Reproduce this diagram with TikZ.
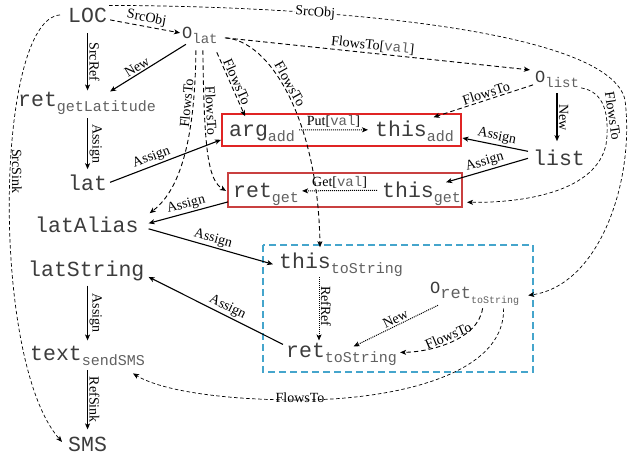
\documentclass[tikz,border=0pt]{standalone}
\usepackage{fontspec}
\setmainfont{Liberation Serif}
\setmonofont{Liberation Mono}
\usetikzlibrary{arrows.meta,calc}
\definecolor{maintext}{HTML}{3C3C3C}
\definecolor{subtext}{HTML}{606060}
\definecolor{boxred}{HTML}{E02424}
\definecolor{boxredb}{HTML}{C94040}
\definecolor{boxblue}{HTML}{45A5CC}
\newcommand\mtxt[1]{{\fontsize{21.5}{21.5}\selectfont\ttfamily #1}}
\newcommand\vtxt[2]{{\fontsize{21.5}{21.5}\selectfont\ttfamily #1}\raisebox{-5pt}{\fontsize{15}{15}\selectfont\ttfamily\color{subtext}#2}}
\newcommand\otxt[1]{{\fontsize{17}{17}\selectfont\ttfamily O}\raisebox{-5pt}{\fontsize{14}{14}\selectfont\ttfamily\color{subtext}#1}}
\newcommand\orettxt{{\fontsize{17}{17}\selectfont\ttfamily O}\raisebox{-5pt}{\fontsize{17}{17}\selectfont\ttfamily\color{subtext}ret\raisebox{-5pt}{\fontsize{10}{10}\selectfont toString}}}
\newcommand\vl{{\ttfamily\color{subtext}val}}
\begin{document}
\begin{tikzpicture}[x=1pt,y=-1pt,
  vn/.style={anchor=base west,inner sep=0pt,text=maintext},
  lab/.style={font=\fontsize{14}{14}\selectfont,inner sep=1.5pt,text=black},
  arr/.style={-{Stealth[length=6pt,width=5pt,inset=1.5pt]}},
  sol/.style={arr,line width=1.1pt},
  dsh/.style={arr,line width=0.9pt,dash pattern=on 4.5pt off 3pt},
  tdsh/.style={arr,line width=0.7pt,dash pattern=on 3.5pt off 2.5pt},
  dotl/.style={arr,line width=1pt,dash pattern=on 1pt off 1pt},
]
\useasboundingbox (0,0) rectangle (629,459);

% boxes
\draw[boxred, line width=1.2pt] (222,114) rectangle (461,146);
\draw[boxredb, line width=1.2pt] (228,173) rectangle (462,207);
\draw[boxblue, line width=1.5pt, dash pattern=on 7pt off 4pt] (263,245) rectangle (533,372);

% nodes
\node[vn] (loc) at (68,22) {\mtxt{LOC}};
\node[vn] (olat) at (182,38) {\otxt{lat}};
\node[vn] (retgl) at (18,106) {\vtxt{ret}{getLatitude}};
\node[vn] (lat) at (68,190) {\mtxt{lat}};
\node[vn] (latalias) at (35,232) {\mtxt{latAlias}};
\node[vn] (latstring) at (28,276) {\mtxt{latString}};
\node[vn] (textsms) at (30,360) {\vtxt{text}{sendSMS}};
\node[vn] (sms) at (68,451) {\mtxt{SMS}};
\node[vn] (argadd) at (229,136) {\vtxt{arg}{add}};
\node[vn] (thisadd) at (375,136) {\vtxt{this}{add}};
\node[vn] (retget) at (233,197) {\vtxt{ret}{get}};
\node[vn] (thisget) at (382,197) {\vtxt{this}{get}};
\node[vn] (olist) at (535,82) {\otxt{list}};
\node[vn] (list) at (533,165) {\mtxt{list}};
\node[vn] (thists) at (279,268) {\vtxt{this}{toString}};
\node[vn] (retts) at (286,357) {\vtxt{ret}{toString}};
\node[vn] (orets) at (430,293) {\orettxt};

% edges
\draw[dsh] ([shift={(3,5)}]loc.east) -- node[lab,above,sloped]{SrcObj} ([shift={(-2,-2)}]olat.west);
\draw[tdsh] ([shift={(-8,0)}]loc.west) .. controls (-5,20) and (-10,360) .. node[lab,pos=.45,rotate=-90,anchor=south]{SrcSink} ([shift={(-6,-2)}]sms.west);
\draw[tdsh] ([shift={(2,-2)}]loc.north east) .. controls (330,6) and (610,30) .. node[lab,pos=.3,sloped,fill=white,inner sep=0.5pt]{SrcObj} (625,100) .. controls (635,180) and (600,285) .. ([shift={(9,2)}]orets.east);
\draw[sol] ([shift={(0,11)}]loc.south) -- node[lab,above,sloped]{SrcRef} ([shift={(0,-1)}]loc.south |- retgl.north);
\draw[sol] ([shift={(-14,1)}]olat.south) -- node[lab,above,sloped,pos=.6]{New} ([shift={(23,0)}]retgl.north);
\draw[sol] ([shift={(0,4)}]loc.south |- retgl.south) -- node[lab,above,sloped]{Assign} ([shift={(0,-5)}]loc.south |- lat.north);
\draw[sol] ([shift={(3,0)}]lat.east) -- node[lab,above,sloped,pos=.4]{Assign} ([shift={(-8,7)}]argadd.west);
\draw[dsh] ([shift={(-4,7)}]olat.south) .. controls (195,140) and (180,190) .. node[lab,above,sloped,pos=.22]{FlowsTo} ([shift={(11,-3)}]latalias.north east);
\draw[dsh] ([shift={(3,7)}]olat.south) .. controls (204,150) and (208,180) .. node[lab,above,sloped,pos=.24]{FlowsTo} ([shift={(-7,-3)}]retget.west);
\draw[dsh] ([shift={(-1,9)}]olat.south east) -- node[lab,above,sloped,pos=.5]{FlowsTo} ([shift={(-17,-8)}]argadd.north);
\draw[dsh] ([shift={(7,3)}]olat.east) .. controls (270,40) and (318,120) .. node[lab,above,sloped,pos=.46]{FlowsTo} ([shift={(-21,-5)}]thists.north);
\draw[dsh] ([shift={(8,3)}]olat.east) -- node[lab,above,sloped,pos=.48]{FlowsTo[\vl]} ([shift={(-5,-9)}]olist.west);
\draw[dsh] ([shift={(-2,6)}]olist.west) -- node[lab,above,sloped,pos=.45]{FlowsTo} ([shift={(19,-3)}]thisadd.north);
\draw[sol] ([shift={(-2,6)}]list.north |- olist.south) -- node[lab,above,sloped]{New} ([shift={(-2,-8)}]list.north);
\draw[tdsh] ([shift={(2,9)}]olist.east) .. controls (605,92) and (608,115) .. node[lab,above,sloped,pos=.7]{FlowsTo} (607,135) .. controls (606,185) and (540,203) .. ([shift={(6,9)}]thisget.east);
\draw[sol] ([shift={(-5,-6)}]list.west) -- node[lab,above,sloped]{Assign} ([shift={(8.4,7.2)}]thisadd.east);
\draw[sol] ([shift={(-5,1)}]list.west) -- node[lab,above,sloped]{Assign} ([shift={(-15,-11)}]thisget.east);
\draw[dotl] ([shift={(4,-3)}]argadd.east) -- node[lab,above]{Put[\vl]} ([shift={(-7,-1)}]thisadd.west);
\draw[dotl] ([shift={(-5,-3)}]thisget.west) -- node[lab,above]{Get[\vl]} ([shift={(3,-3)}]retget.east);
\draw[sol] ([shift={(-5,8)}]retget.west) -- node[lab,above,sloped]{Assign} ([shift={(10,-1)}]latalias.east);
\draw[sol] ([shift={(10,4.5)}]latalias.east) -- node[lab,above,sloped]{Assign} ([shift={(-6,0)}]thists.west);
\draw[sol] ([shift={(-3,-9.5)}]retts.west) -- node[lab,above,sloped,pos=.44]{Assign} ([shift={(4,6.5)}]latstring.east);
\draw[sol] ([shift={(0,5)}]loc.south |- latstring.south) -- node[lab,above,sloped]{Assign} ([shift={(0,-5)}]loc.south |- textsms.north);
\draw[sol] ([shift={(0,5)}]loc.south |- textsms.south) -- node[lab,above,sloped]{RefSink} ([shift={(0,-7)}]loc.south |- sms.north);
\draw[dotl] ([shift={(40,1)}]thists.south west) -- node[lab,above,sloped,pos=.46]{RefRef} ([shift={(33,-2)}]retts.north west);
\draw[dotl] ([shift={(8,0)}]orets.south west) -- node[lab,above,sloped,pos=.47]{New} ([shift={(12,4)}]retts.north);
\draw[dsh] ([shift={(8,3)}]orets.south) .. controls (478,340) and (430,352) .. node[lab,above,sloped,pos=.5]{FlowsTo} ([shift={(3,-1.5)}]retts.east);
\draw[tdsh] ([shift={(29,3)}]orets.south) .. controls (505,380) and (380,400) .. (300,400) node[lab,above=-4pt]{FlowsTo} .. controls (220,400) and (160,390) .. ([shift={(-12,8)}]textsms.south east);
\end{tikzpicture}
\end{document}
